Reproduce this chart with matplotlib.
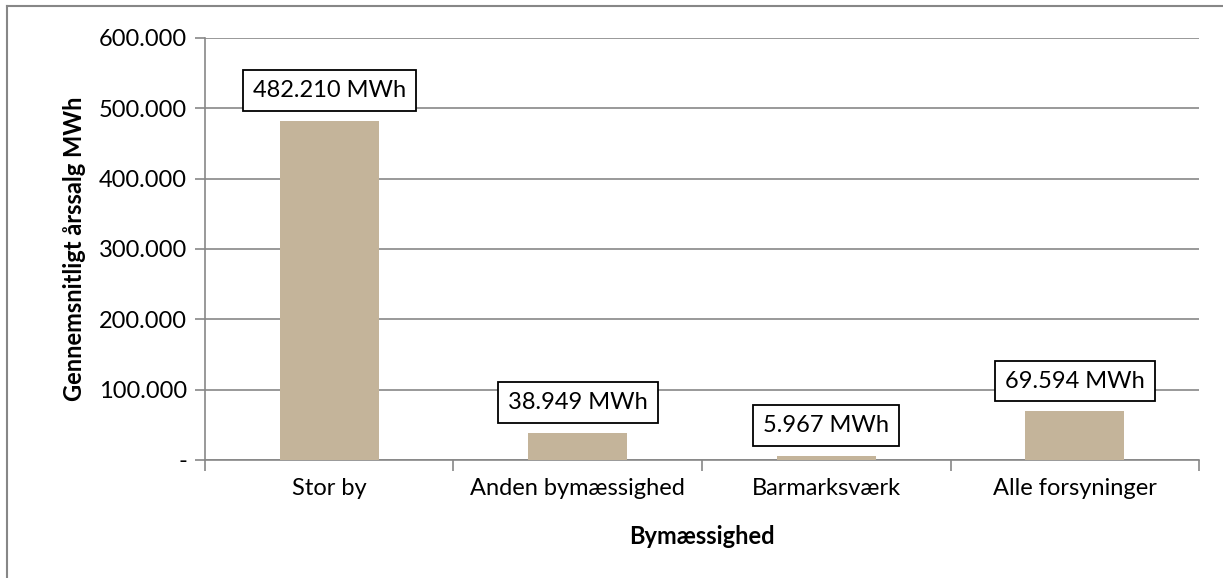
import numpy as np
import matplotlib.pyplot as plt
from matplotlib.ticker import FuncFormatter
from matplotlib.lines import Line2D

# Data
kategorier = ['Stor by', 'Anden bymæssighed', 'Barmarksværk', 'Alle forsyninger']
aarssalg = [482210, 38949, 5967, 69594]
yticks = [0, 100000, 200000, 300000, 400000, 500000, 600000]

plt.rcParams['font.family'] = ['Lato', 'DejaVu Sans']

fig = plt.figure(figsize=(12.23, 5.78), dpi=100)
ax = fig.add_axes([0.1676, 0.2042, 0.8128, 0.7301])

grid_col = '#878787'
bar_col = '#C4B49A'
fs = 17

x = np.arange(len(kategorier))
ax.bar(x, aarssalg, width=0.4, color=bar_col, zorder=3)

ax.set_xlim(-0.5, len(kategorier) - 0.5)
ax.set_ylim(0, 600000)
ax.set_yticks(yticks)


def dk_fmt(v, pos):
    if v == 0:
        return '-'
    return f'{int(v):,}'.replace(',', '.')


ax.yaxis.set_major_formatter(FuncFormatter(dk_fmt))
ax.yaxis.grid(True, color=grid_col, linewidth=1.2, zorder=0)

# category ticks at boundaries
ax.set_xticks(np.arange(-0.5, len(kategorier), 1.0))
ax.set_xticklabels([])
ax.set_xticks(x, minor=True)
ax.set_xticklabels(kategorier, minor=True, fontsize=fs)
ax.tick_params(axis='x', which='minor', length=0, pad=13)
ax.tick_params(axis='x', which='major', length=8, width=1.2, color=grid_col)
ax.tick_params(axis='y', length=7, width=1.2, color=grid_col, labelsize=fs, pad=6)

for s in ['top', 'right']:
    ax.spines[s].set_visible(False)
for s in ['left', 'bottom']:
    ax.spines[s].set_color(grid_col)
    ax.spines[s].set_linewidth(1.2)

ax.set_ylabel('Gennemsnitligt årssalg MWh', fontsize=fs, fontweight='bold', labelpad=9)
ax.set_xlabel('Bymæssighed', fontsize=fs, fontweight='bold', labelpad=19)

# value labels
for xi, v in zip(x, aarssalg):
    ax.annotate(dk_fmt(v, None) + ' MWh', (xi, v), xytext=(0, 14), textcoords='offset points',
                ha='center', va='bottom', fontsize=fs, zorder=5,
                bbox=dict(boxstyle='square,pad=0.42', fc='white', ec='black', lw=1.3))

# outer chart border (left and top only visible)
fig.add_artist(Line2D([7 / 1223, 7 / 1223], [0, 1 - 6 / 578], color=grid_col, lw=1.5))
fig.add_artist(Line2D([7 / 1223, 1], [1 - 6 / 578, 1 - 6 / 578], color=grid_col, lw=1.5))

fig.savefig('out.png', dpi=100)
